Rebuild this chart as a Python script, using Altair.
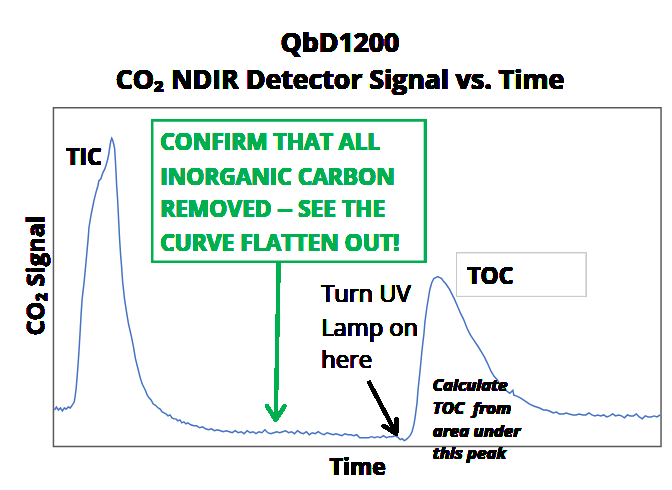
import altair as alt
import pandas as pd

# ---- data (time in arbitrary units, signal in arbitrary units) ----
time_a = [1, 3, 5, 7, 9, 11, 13, 15, 17, 19, 21, 22, 23, 24, 25, 26, 27, 28, 29, 31, 33, 35, 36, 38, 40,
          41, 43, 45, 46, 48, 50, 52, 53, 55, 56, 57, 58, 59, 60, 61, 62, 63, 64, 65, 66, 67, 68, 69, 70,
          72, 74, 76, 79, 81, 83, 86, 88, 90, 93, 95, 97, 99, 101, 103, 106, 108, 110, 112, 114, 116, 118,
          120, 122, 124, 126, 128, 130, 132, 134, 136]
signal_a = [37, 40, 37, 39, 36, 39, 38, 40, 39, 42, 45, 51, 59, 71, 84, 99, 116, 134, 149, 166, 187, 209,
            222, 234, 244, 249, 257, 264, 269, 271, 277, 281, 284, 291, 296, 303, 309, 312, 310, 306, 301,
            284, 264, 249, 229, 209, 194, 182, 167, 149, 136, 124, 111, 101, 89, 77, 69, 63, 57, 52, 49,
            47, 43, 42, 39, 38, 35, 34, 33, 31, 32, 29, 28, 28, 26, 27, 24, 25, 23, 24]

time_b = list(range(139, 350, 3))
signal_b = [22, 21, 21, 19, 20, 18, 17, 18, 16, 17,
            16, 15, 16, 15, 14, 16, 14, 15, 13, 16,
            14, 15, 13, 15, 14, 17, 14, 13, 14, 15,
            14, 15, 16, 14, 15, 13, 16, 14, 13, 15,
            12, 14, 13, 15, 13, 12, 14, 13, 12, 13,
            12, 11, 13, 12, 12, 11, 12, 9, 9, 9,
            9, 10, 9, 10, 9, 11, 9, 10, 10, 11, 9]

time_c = [351, 353, 355, 357, 359, 361, 363, 365, 366, 368, 369, 371, 373, 375, 376, 378, 380, 381, 383,
          385, 387, 389, 391, 393, 395, 397, 399, 401, 403, 406, 409, 412, 415, 419, 422, 426, 430, 433,
          436, 439, 443, 446, 449, 452, 456, 459, 462, 465, 466, 469, 473, 476, 479, 482, 486, 489, 492,
          496, 499, 502, 506, 509, 512, 516, 519, 522, 526, 529, 532, 536, 539, 542, 545, 548, 551, 554,
          557, 560, 563, 566, 569, 572, 575, 578, 581, 584, 587, 590, 593, 596, 599, 602, 605, 608, 611, 614]
signal_c = [7, 8, 6, 7, 9, 11, 15, 23, 29, 44, 57, 76, 97, 114, 126, 141, 153, 159, 166, 170, 171, 172,
            171, 170, 167, 165, 162, 159, 155, 149, 142, 135, 129, 119, 113, 107, 101, 96, 91, 85, 76, 71,
            68, 63, 59, 56, 54, 57, 52, 51, 49, 47, 45, 43, 41, 40, 39, 37, 37, 36, 34, 35, 33, 33, 34, 33,
            32, 32, 33, 32, 32, 34, 32, 31, 32, 31, 32, 30, 31, 33, 31, 32, 31, 29, 32, 31, 31, 33, 30, 28,
            31, 30, 30, 31, 30, 32]

time = time_a + time_b + time_c
signal = signal_a + signal_b + signal_c

title_lines = ["QbD1200", "CO\u2082 NDIR Detector Signal vs. Time"]
green_lines = ["CONFIRM THAT ALL", "INORGANIC CARBON", "REMOVED -- SEE THE", "CURVE FLATTEN OUT!"]
uv_lines = ["Turn UV", "Lamp on", "here"]
calc_lines = ["Calculate", "TOC\u00a0 from", "area under", "this peak"]

df = pd.DataFrame({"time": time, "signal": signal})

W, H = 615, 343
FONT = "Open Sans"
GREEN = "#00b050"

x_scale = alt.Scale(domain=[0, 615], nice=False, zero=False)
y_scale = alt.Scale(domain=[0, 343], nice=False, zero=False)

curve = alt.Chart(df).mark_line(color="#4472c4", strokeWidth=1.5).encode(
    x=alt.X("time:Q", scale=x_scale, axis=None),
    y=alt.Y("signal:Q", scale=y_scale, axis=None),
)

layers = [curve]

# boxes
layers.append(alt.Chart(df).mark_rect(fill="white", stroke=GREEN, strokeWidth=2.5).encode(
    x=alt.value(100), x2=alt.value(376), y=alt.value(13), y2=alt.value(156)))
layers.append(alt.Chart(df).mark_rect(fill="white", stroke="#c8c8c8", strokeWidth=1).encode(
    x=alt.value(408), x2=alt.value(539), y=alt.value(147), y2=alt.value(191)))


def txt(s, x, y, size, weight="bold", color="black", style="normal", angle=0, align="left",
        baseline="alphabetic"):
    props = dict(text=s, font=FONT, fontSize=size, fontWeight=weight, color=color,
                 fontStyle=style, align=align, baseline=baseline)
    if angle:
        props["angle"] = angle
    return alt.Chart(df).mark_text(**props).encode(x=alt.value(x), y=alt.value(y))


layers.append(txt(title_lines[0], 290, -56, 27, align="center"))
layers.append(txt(title_lines[1], 290, -19, 27, align="center"))
for i, s in enumerate(green_lines):
    layers.append(txt(s, 108, [43, 78, 111, 145][i], 23, color=GREEN))
layers.append(txt("TIC", 13, 58, 23))
layers.append(txt("TOC", 419, 178, 23))
for i, s in enumerate(uv_lines):
    layers.append(txt(s, 271, [197, 231, 264][i], 24, weight="normal"))
for i, s in enumerate(calc_lines):
    layers.append(txt(s, 384, [287, 310, 333, 356][i], 17, style="italic"))
layers.append(txt("Time", 308, 372, 23, align="center"))
layers.append(txt("CO\u2082 Signal", -17, 170, 24, angle=270, align="center", baseline="middle"))


def seg(x1, y1, x2, y2, color, w, cap="round"):
    return alt.Chart(df).mark_rule(color=color, strokeWidth=w, strokeCap=cap).encode(
        x=alt.value(x1), y=alt.value(y1), x2=alt.value(x2), y2=alt.value(y2))


# green arrow
layers.append(seg(228, 156, 225, 316, GREEN, 3.5, "butt"))
layers.append(seg(216, 302, 225, 316, GREEN, 3.5))
layers.append(seg(234, 302, 225, 316, GREEN, 3.5))
# black arrow
layers.append(seg(319, 277, 347, 330, "black", 3.5, "butt"))
layers.append(seg(347.4, 315, 347, 330, "black", 3.5))
layers.append(seg(334, 322, 347, 330, "black", 3.5))

chart = alt.layer(*layers).properties(
    width=W, height=H,
    autosize=alt.AutoSizeParams(type="none"),
    padding={"left": 46, "top": 98, "right": 3, "bottom": 33},
    background="white",
).configure_view(stroke="#595959", strokeWidth=1.5)

chart.save("out.html", embed_options={"renderer": "svg", "actions": False})
